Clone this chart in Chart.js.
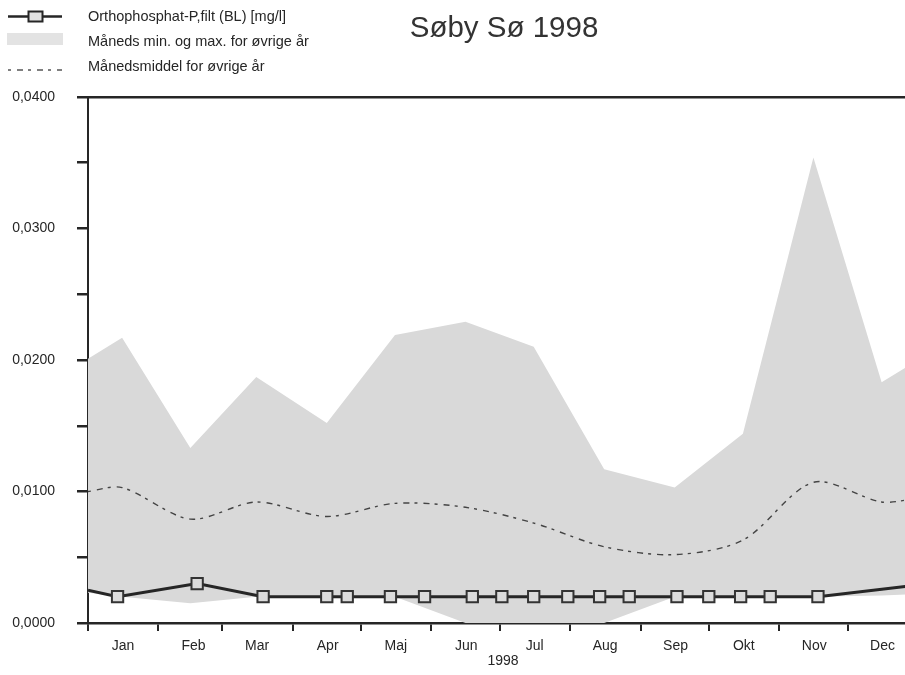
<!DOCTYPE html>
<html>
<head>
<meta charset="utf-8">
<script src="https://cdn.jsdelivr.net/npm/chart.js@4/dist/chart.umd.min.js"></script>
<style>
html, body { margin: 0; padding: 0; overflow: hidden; background: #fff; width: 905px; height: 675px; }
#wrap { position: relative; width: 918px; height: 675px; }
canvas { display: block; }
</style>
</head>
<body>
<div id="wrap"><canvas id="c" width="918" height="675"></canvas></div>
<script>
// ---- data ----
const chartTitle = 'Søby Sø 1998';
const xAxisTitle = '1998';
const legendLabels = [
  'Orthophosphat-P,filt (BL) [mg/l]',
  'Måneds min. og max. for øvrige år',
  'Månedsmiddel for øvrige år'
];
const monthLabels = ['Jan', 'Feb', 'Mar', 'Apr', 'Maj', 'Jun', 'Jul', 'Aug', 'Sep', 'Okt', 'Nov', 'Dec'];
const monthStartDays = [0, 31, 59, 90, 120, 151, 181, 212, 243, 273, 304, 334];

// other years: day of year, monthly max / min / mean
const refDays   = [0,      15,     45,     74,     105,    135,    166,    196,    227,    258,    288,    319,    349,    365];
const monthMax  = [0.0201, 0.0217, 0.0133, 0.0187, 0.0152, 0.0219, 0.0229, 0.0210, 0.0117, 0.0103, 0.0144, 0.0354, 0.0183, 0.0200];
const monthMin  = [0.0023, 0.0020, 0.0015, 0.0020, 0.0020, 0.0020, 0.0000, 0.0000, 0.0000, 0.0020, 0.0020, 0.0020, 0.0021, 0.0022];
const monthMean = [0.0100, 0.0103, 0.0079, 0.0092, 0.0081, 0.0091, 0.0088, 0.0076, 0.0058, 0.0052, 0.0063, 0.0107, 0.0092, 0.0095];

// 1998 samples: day of year and value (mg/l)
const sampleDays   = [0,      13,    48,    77,    105,   114,   133,   148,   169,   182,   196,   211,   225,   238,   259,   273,   287,   300,   321,   365];
const sampleValues = [0.0025, 0.002, 0.003, 0.002, 0.002, 0.002, 0.002, 0.002, 0.002, 0.002, 0.002, 0.002, 0.002, 0.002, 0.002, 0.002, 0.002, 0.002, 0.002, 0.0029];

// ---- helpers ----
const FONT = '"Liberation Sans", Arial, Helvetica, sans-serif';
const INK = '#262626';
const BAND = '#d9d9d9';
const toPts = (xs, ys) => xs.map((x, i) => ({ x: x, y: ys[i] }));
const sampleRadius = sampleDays.map((d, i) => (i === 0 || i === sampleDays.length - 1) ? 0 : 8);

const decorPlugin = {
  id: 'decor',
  afterDraw(chart) {
    const ctx = chart.ctx;
    ctx.save();
    // title
    ctx.fillStyle = '#333';
    ctx.font = '29.5px ' + FONT;
    ctx.textAlign = 'center';
    ctx.textBaseline = 'alphabetic';
    ctx.fillText(chartTitle, 504, 37);

    // legend symbols
    ctx.strokeStyle = INK;
    ctx.lineWidth = 2.5;
    ctx.beginPath(); ctx.moveTo(8, 16.5); ctx.lineTo(62, 16.5); ctx.stroke();
    ctx.fillStyle = '#e2e2e2';
    ctx.fillRect(28.5, 11.5, 14, 10);
    ctx.lineWidth = 2;
    ctx.strokeRect(28.5, 11.5, 14, 10);

    ctx.fillStyle = '#e3e3e3';
    ctx.fillRect(7, 33, 56, 12);

    ctx.strokeStyle = '#555';
    ctx.lineWidth = 1.3;
    ctx.setLineDash([3, 6, 6, 5]);
    ctx.beginPath(); ctx.moveTo(8, 70); ctx.lineTo(62, 70); ctx.stroke();
    ctx.setLineDash([]);

    // legend texts
    ctx.fillStyle = INK;
    ctx.font = '14.5px ' + FONT;
    ctx.textAlign = 'left';
    ctx.textBaseline = 'middle';
    ctx.fillText(legendLabels[0], 88, 17);
    ctx.fillText(legendLabels[1], 88, 42);
    ctx.fillText(legendLabels[2], 88, 67);
    ctx.restore();
  }
};

new Chart(document.getElementById('c'), {
  type: 'line',
  data: {
    datasets: [
      {
        label: 'max',
        data: toPts(refDays, monthMax),
        borderWidth: 0,
        borderColor: 'rgba(0,0,0,0)',
        pointRadius: 0,
        backgroundColor: BAND,
        fill: '+1',
        order: 3
      },
      {
        label: 'min',
        data: toPts(refDays, monthMin),
        borderWidth: 0,
        borderColor: 'rgba(0,0,0,0)',
        pointRadius: 0,
        fill: false,
        order: 3
      },
      {
        label: legendLabels[2],
        data: toPts(refDays, monthMean),
        borderColor: '#444',
        borderWidth: 1.4,
        borderDash: [3, 6, 6, 5],
        pointRadius: 0,
        tension: 0.3,
        fill: false,
        order: 2
      },
      {
        label: legendLabels[0],
        data: toPts(sampleDays, sampleValues),
        borderColor: INK,
        borderWidth: 3,
        pointStyle: 'rect',
        pointRadius: sampleRadius,
        pointBackgroundColor: '#dcdcdc',
        pointBorderColor: '#333',
        pointBorderWidth: 2,
        tension: 0,
        fill: false,
        order: 1
      }
    ]
  },
  options: {
    responsive: false,
    animation: false,
    events: [],
    layout: { padding: { top: 97, left: 0, right: 0, bottom: 0 } },
    plugins: {
      legend: { display: false },
      tooltip: { enabled: false },
      title: { display: false }
    },
    scales: {
      x: {
        type: 'linear',
        min: 0,
        max: 365,
        afterBuildTicks: (s) => { s.ticks = monthStartDays.map(v => ({ value: v })); },
        afterFit: (s) => { s.height = 52; },
        ticks: {
          autoSkip: false,
          maxRotation: 0,
          minRotation: 0,
          labelOffset: 35,
          padding: 7,
          color: INK,
          font: { family: FONT, size: 14 },
          callback: (v) => { const i = monthStartDays.indexOf(v); return i >= 0 ? monthLabels[i] : ''; }
        },
        grid: { drawOnChartArea: false, drawTicks: true, tickLength: 8, tickColor: INK, lineWidth: 2 },
        border: { display: true, color: INK, width: 2.5 },
        title: { display: true, text: xAxisTitle, color: INK, font: { family: FONT, size: 14 }, padding: { top: 1, bottom: 5 } }
      },
      y: {
        min: 0,
        max: 0.04,
        afterFit: (s) => { s.width = 88; },
        ticks: {
          stepSize: 0.005,
          padding: 22,
          color: INK,
          font: { family: FONT, size: 14 },
          callback: (v) => { const r = Math.round(v * 10000); return r % 100 === 0 ? (r / 10000).toFixed(4).replace('.', ',') : ''; }
        },
        grid: {
          drawOnChartArea: true,
          drawTicks: true,
          tickLength: 11,
          tickColor: INK,
          lineWidth: 2.5,
          color: (c) => (c.tick && Math.abs(c.tick.value - 0.04) < 1e-9) ? INK : 'rgba(0,0,0,0)'
        },
        border: { display: true, color: INK, width: 2 }
      }
    }
  },
  plugins: [decorPlugin]
});
</script>
</body>
</html>
